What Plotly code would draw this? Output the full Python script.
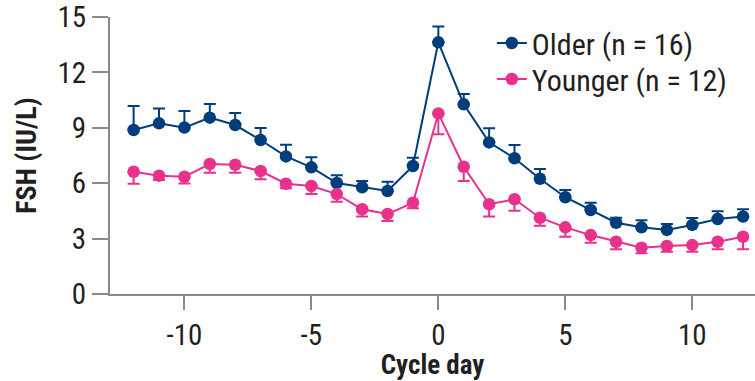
import plotly.graph_objects as go

days = list(range(-12, 13))
older = [8.88, 9.24, 9.01, 9.55, 9.15, 8.34, 7.45, 6.86, 6.01, 5.78, 5.58, 6.93,
         13.63, 10.27, 8.21, 7.35, 6.24, 5.24, 4.55, 3.86, 3.61, 3.47, 3.74, 4.06, 4.19]
older_err = [1.30, 0.81, 0.90, 0.74, 0.65, 0.65, 0.63, 0.54, 0.42, 0.34, 0.50, 0.45,
             0.85, 0.56, 0.76, 0.72, 0.53, 0.39, 0.39, 0.27, 0.39, 0.32, 0.37, 0.42, 0.40]
younger = [6.62, 6.41, 6.35, 7.04, 7.00, 6.66, 5.97, 5.85, 5.41, 4.59, 4.33, 4.94,
           9.78, 6.89, 4.86, 5.13, 4.13, 3.61, 3.19, 2.83, 2.51, 2.60, 2.65, 2.83, 3.10]
younger_err = [0.65, 0.24, 0.36, 0.47, 0.43, 0.45, 0.25, 0.44, 0.41, 0.40, 0.38, 0.30,
               1.13, 0.77, 0.67, 0.62, 0.43, 0.51, 0.41, 0.41, 0.31, 0.31, 0.36, 0.41, 0.68]
x_ticks = [-10, -5, 0, 5, 10]
x_ticklabels = ["-10", "-5", "0", "5", "10"]
y_ticks = [0, 3, 6, 9, 12, 15]

NAVY = "#003d7c"
PINK = "#e8318a"
FONT = "Roboto Condensed, Liberation Sans, Arial, sans-serif"
TXT = "#231f20"

fig = go.Figure()
fig.add_trace(go.Scatter(
    x=days, y=older, mode="lines+markers", name="Older (n = 16)", legend="legend",
    line=dict(color=NAVY, width=2), marker=dict(color=NAVY, size=12.5),
    error_y=dict(type="data", symmetric=False, array=older_err,
                 arrayminus=[0] * len(older_err), color=NAVY, thickness=2, width=6),
))
fig.add_trace(go.Scatter(
    x=days, y=younger, mode="lines+markers", name="Younger (n = 12)", legend="legend2",
    line=dict(color=PINK, width=2), marker=dict(color=PINK, size=12.5),
    error_y=dict(type="data", symmetric=False, array=[0] * len(younger_err),
                 arrayminus=younger_err, color=PINK, thickness=2, width=6),
))

leg_common = dict(xanchor="left", yanchor="top", font=dict(size=30), itemwidth=30,
                  bgcolor="rgba(0,0,0,0)")

fig.update_layout(
    width=755, height=381,
    margin=dict(l=110, r=0, t=17, b=87),
    paper_bgcolor="white", plot_bgcolor="white",
    font=dict(family=FONT, size=26, color=TXT),
    showlegend=True,
    legend=dict(x=0.592, y=1.0, **leg_common),
    legend2=dict(x=0.592, y=0.87, **leg_common),
    xaxis=dict(range=[-12.93, 12.47], tickvals=x_ticks, ticktext=x_ticklabels,
               showgrid=False, zeroline=False, showline=True,
               linecolor="#8a8a8a", linewidth=2,
               ticks="outside", ticklen=14, tickwidth=2, tickcolor="#8a8a8a",
               tickfont=dict(size=29),
               title=dict(text="<b>Cycle day</b>", font=dict(size=27), standoff=0)),
    yaxis=dict(range=[0, 15], tickvals=y_ticks,
               showgrid=False, zeroline=False, showline=True,
               linecolor="#8a8a8a", linewidth=2,
               ticks="outside", ticklen=16, tickwidth=2, tickcolor="#8a8a8a",
               tickfont=dict(size=29),
               title=dict(text="<b>FSH (IU/L)</b>", font=dict(size=28), standoff=13)),
)

fig.write_html("out.html")
